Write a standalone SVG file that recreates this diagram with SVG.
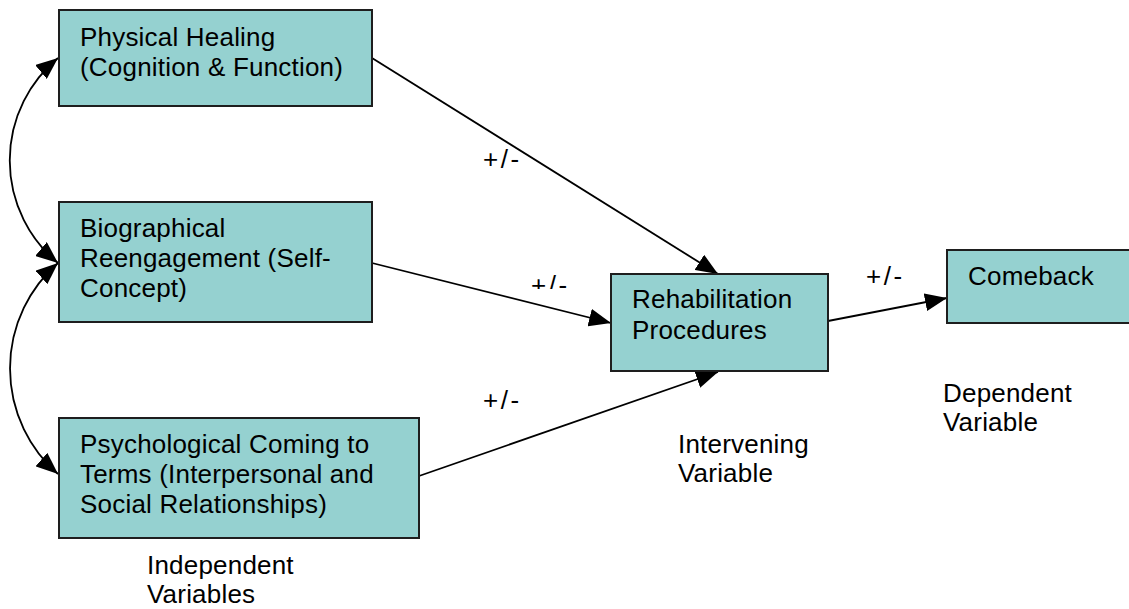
<svg xmlns="http://www.w3.org/2000/svg" width="1129" height="609" viewBox="0 0 1129 609">
  <defs>
    <marker id="head" viewBox="0 0 22 18" refX="22" refY="9" markerWidth="22" markerHeight="18" markerUnits="userSpaceOnUse" orient="auto-start-reverse">
      <path d="M0,0 L22,9 L0,18 Z" fill="#000"/>
    </marker>
    <clipPath id="cut-label">
      <rect x="520" y="260" width="70" height="29"/>
    </clipPath>
  </defs>
  <style>
    .box { fill: #95d1d0; stroke: #1e1e1e; stroke-width: 2; }
    .txt { font-family: "Liberation Sans", Arial, sans-serif; font-size: 26px; letter-spacing: 0.2px; fill: #000; }
    .sign { font-family: "Liberation Sans", Arial, sans-serif; font-size: 26px; fill: #000; letter-spacing: 2.5px; }
    .link { fill: none; stroke: #000; stroke-width: 1.8; marker-end: url(#head); }
    .both { marker-start: url(#head); }
  </style>
  <rect width="1129" height="609" fill="#fff"/>

  <!-- connectors -->
  <g id="connectors">
    <path class="link both" d="M58,58 A133,133 0 0,0 58,263"/>
    <path class="link both" d="M58,263 A140,140 0 0,0 58,474"/>
    <path class="link" d="M372,58 L718,274"/>
    <path class="link" d="M372,263 L611,323"/>
    <path class="link" d="M419,476 L718,372"/>
    <path class="link" d="M828,321 L947,298"/>
  </g>

  <!-- edge labels -->
  <g id="labels">
    <text class="sign" x="483" y="168">+/-</text>
    <text class="sign" x="531" y="294" clip-path="url(#cut-label)">+/-</text>
    <text class="sign" x="483" y="409">+/-</text>
    <text class="sign" x="866" y="285">+/-</text>
  </g>

  <g id="physical">
    <rect class="box" x="59" y="10" width="313" height="96"/>
    <text class="txt" x="80" y="46">Physical Healing</text>
    <text class="txt" x="80" y="76">(Cognition &amp; Function)</text>
  </g>

  <g id="biographical">
    <rect class="box" x="59" y="202" width="313" height="120"/>
    <text class="txt" x="80" y="237">Biographical</text>
    <text class="txt" x="80" y="267">Reengagement (Self-</text>
    <text class="txt" x="80" y="297">Concept)</text>
  </g>

  <g id="psychological">
    <rect class="box" x="59" y="418" width="360" height="120"/>
    <text class="txt" x="80" y="453">Psychological Coming to</text>
    <text class="txt" x="80" y="483">Terms (Interpersonal and</text>
    <text class="txt" x="80" y="513">Social Relationships)</text>
  </g>

  <g id="rehabilitation">
    <rect class="box" x="611" y="274" width="217" height="97"/>
    <text class="txt" x="632" y="308">Rehabilitation</text>
    <text class="txt" x="632" y="339">Procedures</text>
  </g>

  <g id="comeback">
    <rect class="box" x="947" y="250" width="190" height="73"/>
    <text class="txt" x="968" y="285">Comeback</text>
  </g>

  <g id="captions">
    <text class="txt" x="147" y="574">Independent</text>
    <text class="txt" x="147" y="603">Variables</text>
    <text class="txt" x="678" y="453">Intervening</text>
    <text class="txt" x="678" y="482">Variable</text>
    <text class="txt" x="943" y="402">Dependent</text>
    <text class="txt" x="943" y="431">Variable</text>
  </g>
</svg>
